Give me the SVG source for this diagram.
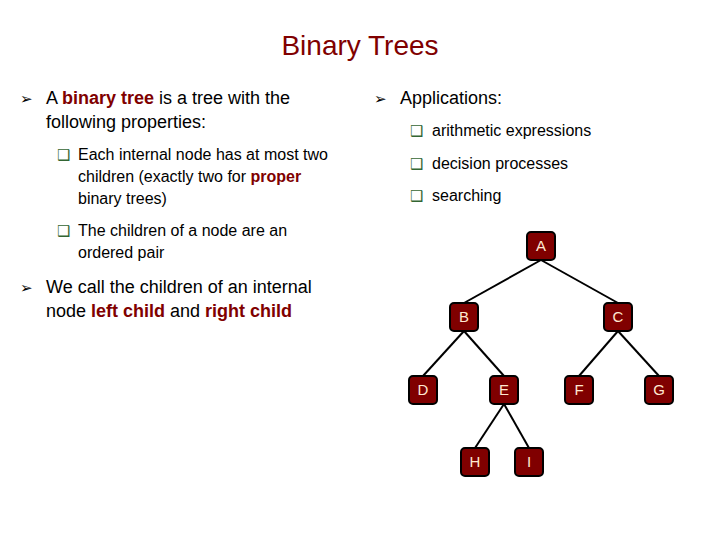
<svg xmlns="http://www.w3.org/2000/svg" width="720" height="540" viewBox="0 0 720 540">
<style>
text{font-family:"Liberation Sans",Arial,sans-serif;fill:#000}
.t{font-size:28px;fill:#800000}
.m{font-size:18px}
.s{font-size:16px}
.k{fill:#800000;font-weight:bold}
.b1{font-family:"DejaVu Sans",sans-serif;font-size:15px}
.b2{font-family:"DejaVu Sans",sans-serif;font-size:15px;fill:#336633}
.n rect{fill:#800000;stroke:#000;stroke-width:2}
.n text{font-size:15px;fill:#ffe8d0;text-anchor:middle}
#edges line{stroke:#000;stroke-width:2}
</style>
<rect width="720" height="540" fill="#fff"/>
<text class="t" x="360" y="55" text-anchor="middle">Binary Trees</text>
<text class="b1" x="20" y="104">➢</text>
<text class="m" x="46" y="104">A <tspan class="k">binary tree</tspan> is a tree with the</text>
<text class="m" x="46" y="128">following properties:</text>
<text class="b2" x="57" y="160">❑</text>
<text class="s" x="78" y="160">Each internal node has at most two</text>
<text class="s" x="78" y="182">children (exactly two for <tspan class="k">proper</tspan></text>
<text class="s" x="78" y="204">binary trees)</text>
<text class="b2" x="57" y="236">❑</text>
<text class="s" x="78" y="236">The children of a node are an</text>
<text class="s" x="78" y="258">ordered pair</text>
<text class="b1" x="20" y="293">➢</text>
<text class="m" x="46" y="293">We call the children of an internal</text>
<text class="m" x="46" y="317">node <tspan class="k">left child</tspan> and <tspan class="k">right child</tspan></text>
<text class="b1" x="374" y="104">➢</text>
<text class="m" x="400" y="104">Applications:</text>
<text class="b2" x="410" y="136">❑</text>
<text class="s" x="432" y="136">arithmetic expressions</text>
<text class="b2" x="410" y="169">❑</text>
<text class="s" x="432" y="169">decision processes</text>
<text class="b2" x="410" y="201">❑</text>
<text class="s" x="432" y="201">searching</text>
<g id="edges">
<line x1="541" y1="260" x2="464" y2="303"/>
<line x1="541" y1="260" x2="618" y2="303"/>
<line x1="464" y1="331" x2="423" y2="376"/>
<line x1="464" y1="331" x2="504" y2="376"/>
<line x1="618" y1="331" x2="579" y2="376"/>
<line x1="618" y1="331" x2="659" y2="376"/>
<line x1="504" y1="404" x2="475" y2="448"/>
<line x1="504" y1="404" x2="529" y2="448"/>
</g>
<g id="A" class="n"><rect x="527" y="232" width="28" height="28" rx="4"/><text x="541" y="251">A</text></g>
<g id="B" class="n"><rect x="450" y="303" width="28" height="28" rx="4"/><text x="464" y="322">B</text></g>
<g id="C" class="n"><rect x="604" y="303" width="28" height="28" rx="4"/><text x="618" y="322">C</text></g>
<g id="D" class="n"><rect x="409" y="376" width="28" height="28" rx="4"/><text x="423" y="395">D</text></g>
<g id="E" class="n"><rect x="490" y="376" width="28" height="28" rx="4"/><text x="504" y="395">E</text></g>
<g id="F" class="n"><rect x="565" y="376" width="28" height="28" rx="4"/><text x="579" y="395">F</text></g>
<g id="G" class="n"><rect x="645" y="376" width="28" height="28" rx="4"/><text x="659" y="395">G</text></g>
<g id="H" class="n"><rect x="461" y="448" width="28" height="28" rx="4"/><text x="475" y="467">H</text></g>
<g id="I" class="n"><rect x="515" y="448" width="28" height="28" rx="4"/><text x="529" y="467">I</text></g>
</svg>
